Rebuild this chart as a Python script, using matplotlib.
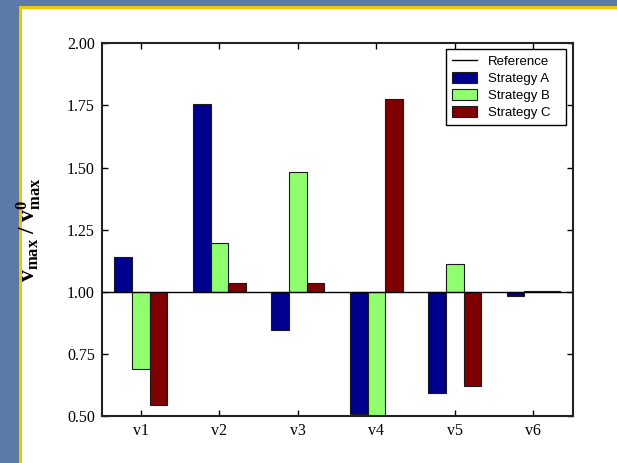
import matplotlib
matplotlib.use("Agg")
import matplotlib.pyplot as plt
import numpy as np
from matplotlib.patches import Rectangle

# Relative peak velocity per variable for each strategy (1.0 = reference)
categories = ["v1", "v2", "v3", "v4", "v5", "v6"]
strategy_a = [1.14, 1.754, 0.846, 0.508, 0.593, 0.984]
strategy_b = [0.688, 1.196, 1.483, 0.50, 1.11, 1.005]
strategy_c = [0.543, 1.035, 1.035, 1.777, 0.62, 1.005]
reference_value = 1.0
series_names = ["Strategy A", "Strategy B", "Strategy C"]
series_colors = ["#00008f", "#8fff6f", "#7f0000"]
y_ticks = [0.50, 0.75, 1.00, 1.25, 1.50, 1.75, 2.00]

plt.rcParams["mathtext.fontset"] = "custom"
plt.rcParams["mathtext.rm"] = "Liberation Serif"
plt.rcParams["mathtext.it"] = "Liberation Serif:italic"
plt.rcParams["mathtext.bf"] = "Liberation Serif:bold"

W, H = 617, 463
fig = plt.figure(figsize=(W / 100, H / 100), dpi=100)
fig.patch.set_facecolor("#5b7ba6")

# slide panel: yellow rim with white card, kept behind the axes
fig.patches.append(Rectangle((19 / W, 0), 1, 1 - 6 / H, transform=fig.transFigure,
                             facecolor="#f2c500", edgecolor="none", zorder=-20))
fig.patches.append(Rectangle((22 / W, 0), 1, 1 - 9 / H, transform=fig.transFigure,
                             facecolor="white", edgecolor="none", zorder=-19))

ax = fig.add_axes([101.7 / W, 1 - 416 / H, (572.5 - 101.7) / W, (416 - 43.3) / H])
ax.set_facecolor("white")

x = np.arange(len(categories))
width = 0.225
for i, (vals, name, col) in enumerate(zip([strategy_a, strategy_b, strategy_c],
                                          series_names, series_colors)):
    vals = np.asarray(vals)
    ax.bar(x + (i - 1) * width, vals - reference_value, width, bottom=reference_value,
           color=col, edgecolor="#1a1a1a", linewidth=0.8, label=name, zorder=2)

ax.axhline(reference_value, color="black", linewidth=1.0, label="Reference", zorder=3)

ax.set_xlim(-0.5, len(categories) - 0.5)
ax.set_ylim(0.5, 2.0)
ax.set_xticks(x)
ax.set_xticklabels(categories)
ax.set_yticks(y_ticks)
ax.set_yticklabels([f"{t:.2f}" for t in y_ticks])

serif = "Liberation Serif"
for lab in ax.get_xticklabels() + ax.get_yticklabels():
    lab.set_fontfamily(serif)
    lab.set_fontsize(11.5)

ax.tick_params(direction="in", top=True, right=True, length=4, width=1, pad=5)
for s in ax.spines.values():
    s.set_linewidth(1.5)
    s.set_color("#222222")

ax.set_ylabel(r"$\mathbf{v_{max}\ /\ v^{0}_{max}}$", fontsize=17)
ax.yaxis.set_label_coords(-0.124, 0.5)

handles, labels = ax.get_legend_handles_labels()
order = [labels.index("Reference")] + [labels.index(n) for n in series_names]
leg = ax.legend([handles[k] for k in order], [labels[k] for k in order],
                loc="upper left", bbox_to_anchor=(0.7313, 0.5, 0.2549, 0.4847),
                mode="expand", borderaxespad=0,
                prop={"family": "Liberation Sans", "size": 9.5},
                frameon=True, fancybox=False, framealpha=1, edgecolor="black",
                handlelength=1.9, handleheight=0.9, labelspacing=0.3,
                borderpad=0.45, handletextpad=0.8)
leg.get_frame().set_linewidth(1.0)

fig.savefig("out.png", dpi=100, facecolor=fig.get_facecolor())
